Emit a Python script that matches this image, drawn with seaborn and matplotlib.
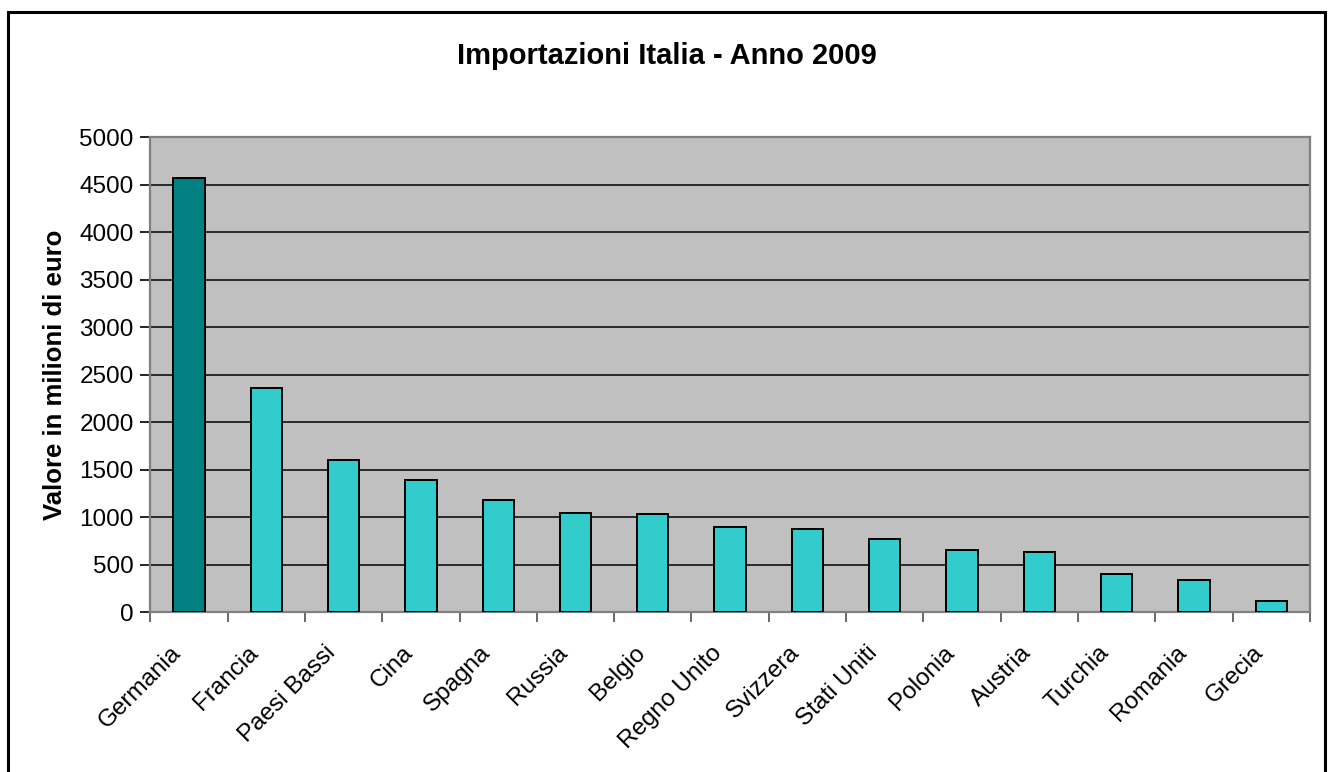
import matplotlib
matplotlib.use("Agg")
import matplotlib.pyplot as plt
from matplotlib.patches import Rectangle
from matplotlib.transforms import ScaledTranslation
import seaborn as sns
import pandas as pd
import numpy as np

# Import values by partner country, millions of euro
paesi = ["Germania", "Francia", "Paesi Bassi", "Cina", "Spagna", "Russia", "Belgio",
         "Regno Unito", "Svizzera", "Stati Uniti", "Polonia", "Austria", "Turchia",
         "Romania", "Grecia"]
valori = [4570, 2365, 1598, 1393, 1182, 1042, 1040, 895, 874, 776, 655, 630, 403, 343, 124]
colori = ["#008080"] + ["#33CCCC"] * (len(paesi) - 1)

titolo = "Importazioni Italia - Anno 2009"
etichetta_y = "Valore in milioni di euro"

sns.set_theme(style="white")
plt.rcParams["font.family"] = ["Liberation Sans", "DejaVu Sans"]

W, H = 1334, 772
fig = plt.figure(figsize=(W / 100, H / 100), dpi=100)
fig.patch.set_facecolor("white")

left, right, top, bottom = 150.3, 1310, 137.3, 612.3
ax = fig.add_axes([left / W, 1 - bottom / H, (right - left) / W, (bottom - top) / H])
ax.set_facecolor("#C0C0C0")

df = pd.DataFrame({"paese": paesi, "valore": valori})
sns.barplot(data=df, x="paese", y="valore", hue="paese", palette=colori,
            width=0.405, edgecolor="black", linewidth=1.4, saturation=1,
            legend=False, ax=ax, zorder=3)

ax.set_xlim(-0.5, len(paesi) - 0.5)
ax.set_ylim(0, 5000)
ax.set_yticks(np.arange(0, 5001, 500))
ax.yaxis.grid(True, color="black", linewidth=1.1, zorder=1)
ax.set_axisbelow(True)

for s in ax.spines.values():
    s.set_color("#808080")
    s.set_linewidth(1.6)

ax.tick_params(axis="y", which="major", left=True, length=7, width=1.2, color="black",
               labelsize=17.5, pad=5, labelcolor="black")

ax.set_xticks(range(len(paesi)))
ax.set_xticks(np.arange(-0.5, len(paesi), 1.0), minor=True)
ax.tick_params(axis="x", which="major", length=0, pad=14)
ax.tick_params(axis="x", which="minor", bottom=True, length=7, width=1.2, color="#505050")
ax.set_xticklabels(paesi, rotation=45, ha="right", va="top", rotation_mode="anchor",
                   fontsize=17.5, color="black")
shift = ScaledTranslation(-19 / 100, -10 / 100, fig.dpi_scale_trans)
for lab in ax.get_xticklabels():
    lab.set_transform(lab.get_transform() + shift)

ax.set_xlabel("")
ax.set_ylabel(etichetta_y, fontsize=18.5, fontweight="bold", color="black", labelpad=9)

fig.text(0.5, 1 - 64 / H, titolo, ha="center", va="baseline", fontsize=21,
         fontweight="bold", color="black")

fig.patches.append(Rectangle((8 / W, -0.01), (1325 - 8) / W, 1 - 12 / H + 0.01,
                             transform=fig.transFigure, fill=False,
                             edgecolor="black", linewidth=2.2))

fig.savefig("out.png", dpi=100, facecolor="white")
